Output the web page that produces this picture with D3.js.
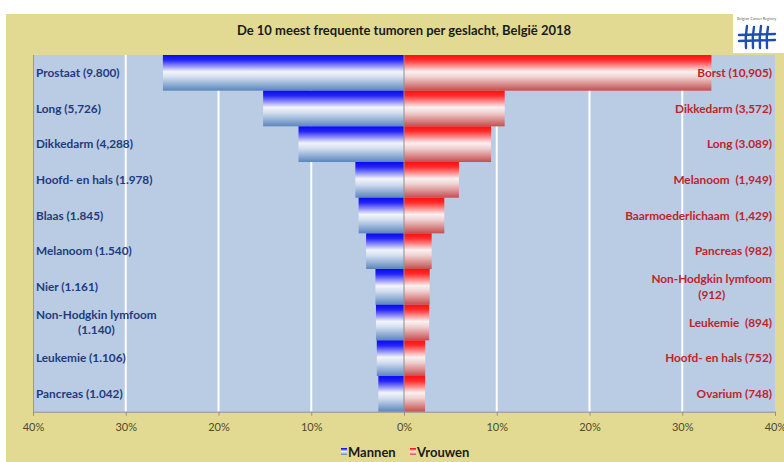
<!DOCTYPE html>
<html>
<head>
<meta charset="utf-8">
<script src="https://cdn.jsdelivr.net/npm/d3@7"></script>
<style>
  body { margin: 0; background: #ffffff; }
  svg { display: block; }
  text { font-family: Lato, "Open Sans", sans-serif; }
</style>
</head>
<body>
<svg id="chart" width="784" height="462"></svg>
<script>
// Top 10 tumours per sex, Belgium 2018 (number of new cases in brackets)
const title = "De 10 meest frequente tumoren per geslacht, België 2018";
const menLabels = [
  "Prostaat (9.800)", "Long (5,726)", "Dikkedarm (4,288)", "Hoofd- en hals (1.978)",
  "Blaas (1.845)", "Melanoom (1.540)", "Nier (1.161)", "Non-Hodgkin lymfoom\n(1.140)",
  "Leukemie (1.106)", "Pancreas (1.042)"
];
const womenLabels = [
  "Borst (10,905)", "Dikkedarm (3,572)", "Long (3.089)", "Melanoom  (1,949)",
  "Baarmoederlichaam  (1,429)", "Pancreas (982)", "Non-Hodgkin lymfoom\n(912)",
  "Leukemie  (894)", "Hoofd- en hals (752)", "Ovarium (748)"
];
// all new cases per sex, used as the denominator for the percentages
const menTotal = 37700;
const womenTotal = 32900;
const tickValues = [-40, -30, -20, -10, 0, 10, 20, 30, 40];
const gridValues = [-30, -20, -10, 10, 20, 30];
const legendNames = ["Mannen", "Vrouwen"];

// case count read from the "(n)" part of each label
const countOf = s => +s.match(/\(([\d.,]+)\)/)[1].replace(/[.,]/g, "");
const men = menLabels.map((label, i) => ({ i, label, pct: countOf(label) / menTotal * 100 }));
const women = womenLabels.map((label, i) => ({ i, label, pct: countOf(label) / womenTotal * 100 }));

const svg = d3.select("#chart");
const plot = { left: 33, right: 775, top: 55, bottom: 411.7 };

const x = d3.scaleLinear().domain([-40, 40]).range([plot.left, plot.right]);
const y = d3.scaleBand().domain(d3.range(menLabels.length)).range([plot.top, plot.bottom]).padding(0);

// gradients for the bars and legend swatches
const defs = svg.append("defs");
function gradient(id, stops) {
  const g = defs.append("linearGradient").attr("id", id)
    .attr("x1", 0).attr("y1", 0).attr("x2", 0).attr("y2", 1);
  stops.forEach(([o, c]) => g.append("stop").attr("offset", o).attr("stop-color", c));
}
gradient("gradMen", [[0, "#0808f8"], [0.14, "#2424f4"], [0.47, "#f3f5fb"], [0.62, "#d3dff0"], [1, "#5a85bd"]]);
gradient("gradWomen", [[0, "#ff0e0e"], [0.14, "#ff2c2c"], [0.47, "#fbf1f1"], [0.62, "#f0d0d0"], [1, "#c44e4e"]]);

// chart background
svg.append("rect").attr("x", 6).attr("y", 14).attr("width", 778).attr("height", 448)
  .attr("fill", "#e2da93");
svg.append("rect").attr("x", plot.left).attr("y", plot.top)
  .attr("width", plot.right - plot.left).attr("height", plot.bottom - plot.top)
  .attr("fill", "#b9cce4");

// title
svg.append("text").attr("x", 404).attr("y", 35).attr("text-anchor", "middle")
  .attr("font-size", 13).attr("font-weight", 700).attr("fill", "#1a1a1a")
  .text(title);

// logo
const logo = svg.append("g");
logo.append("rect").attr("x", 733).attr("y", 13).attr("width", 51).attr("height", 40).attr("fill", "#ffffff");
logo.append("text").attr("x", 737).attr("y", 20).attr("font-size", 3.8).attr("fill", "#666")
  .text("Belgian Cancer Registry");
const tally = logo.append("g").attr("stroke", "#1d4fb3").attr("stroke-width", 2.4)
  .attr("stroke-linecap", "round").attr("fill", "none");
[746, 753, 760, 767].forEach((vx, k) =>
  tally.append("path").attr("d", `M${vx + 1},${26 + (k % 2)} Q${vx - 1},37 ${vx},48`));
tally.append("line").attr("x1", 739).attr("y1", 35).attr("x2", 775).attr("y2", 34);
tally.append("line").attr("x1", 739).attr("y1", 41).attr("x2", 775).attr("y2", 40);

// vertical gridlines
svg.append("g").selectAll("line").data(gridValues).join("line")
  .attr("x1", d => x(d)).attr("x2", d => x(d))
  .attr("y1", plot.top).attr("y2", plot.bottom)
  .attr("stroke", "#ffffff").attr("stroke-width", 2);

// bars
svg.append("g").selectAll("rect").data(men).join("rect")
  .attr("x", d => x(-d.pct)).attr("y", d => y(d.i))
  .attr("width", d => x(0) - x(-d.pct)).attr("height", y.bandwidth())
  .attr("fill", "url(#gradMen)");
svg.append("g").selectAll("rect").data(women).join("rect")
  .attr("x", x(0)).attr("y", d => y(d.i))
  .attr("width", d => x(d.pct) - x(0)).attr("height", y.bandwidth())
  .attr("fill", "url(#gradWomen)");

// zero line and left plot edge
svg.append("line").attr("x1", x(0)).attr("x2", x(0)).attr("y1", plot.top).attr("y2", plot.bottom)
  .attr("stroke", "#8c8f96").attr("stroke-width", 1);
svg.append("line").attr("x1", plot.left + 0.5).attr("x2", plot.left + 0.5).attr("y1", plot.top).attr("y2", plot.bottom)
  .attr("stroke", "#9a9a8a").attr("stroke-width", 1);

// category labels (multi-line labels are centred within their block)
function drawLabels(data, side, color) {
  const g = svg.append("g").attr("font-size", 11.8).attr("font-weight", 700).attr("fill", color);
  data.forEach(d => {
    const lines = d.label.split("\n");
    const cy = y(d.i) + y.bandwidth() / 2;
    const lh = 15.5;
    const t = g.append("text").style("white-space", "pre");
    if (lines.length === 1) {
      t.attr("x", side === "left" ? 36 : 772).attr("y", cy + 4.2)
        .attr("text-anchor", side === "left" ? "start" : "end").text(lines[0]);
    } else {
      t.attr("text-anchor", "middle").attr("y", cy - lh / 2 + 4.2).text(lines[0]);
      const w = t.node().getComputedTextLength();
      const cx = side === "left" ? 36 + w / 2 : 772 - w / 2;
      t.attr("x", cx);
      g.append("text").attr("text-anchor", "middle").attr("x", cx).attr("y", cy + lh / 2 + 4.2).text(lines[1]);
    }
  });
}
drawLabels(men, "left", "#1f3b7e");
drawLabels(women, "right", "#c1232b");

// bottom axis
const axis = svg.append("g").attr("transform", `translate(0,${plot.bottom})`)
  .call(d3.axisBottom(x).tickValues(tickValues).tickFormat(d => Math.abs(d) + "%").tickSize(4).tickPadding(8));
axis.select(".domain").attr("stroke", "#8c8f96");
axis.selectAll(".tick line").attr("stroke", "#8c8f96");
axis.selectAll(".tick text").attr("font-family", "Lato, sans-serif").attr("font-size", 11)
  .attr("fill", "#4d4b2c");

// legend
const legend = svg.append("g");
const legendX = [341, 410];
const legendFill = ["url(#gradMen)", "url(#gradWomen)"];
legendNames.forEach((name, k) => {
  legend.append("rect").attr("x", legendX[k]).attr("y", 448).attr("width", 6).attr("height", 7)
    .attr("fill", legendFill[k]);
  legend.append("text").attr("x", legendX[k] + 7).attr("y", 456.5)
    .attr("font-size", 13).attr("font-weight", 700).attr("fill", "#1a1a1a").text(name);
});
</script>
</body>
</html>
